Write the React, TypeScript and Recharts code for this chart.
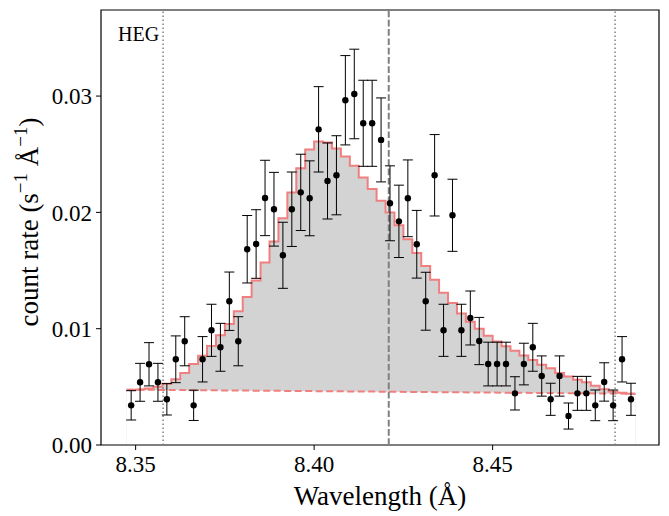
import {
  ComposedChart,
  Line,
  Area,
  Scatter,
  ErrorBar,
  XAxis,
  YAxis,
  ReferenceLine,
  ReferenceArea,
  Customized,
} from 'recharts'

// bin centres (Å), 2.5 mÅ bins
const wavelength = [
  8.34875, 8.35125, 8.35375, 8.35625, 8.35875, 8.36125, 8.36375, 8.36625, 8.36875, 8.37125,
  8.37375, 8.37625, 8.37875, 8.38125, 8.38375, 8.38625, 8.38875, 8.39125, 8.39375, 8.39625,
  8.39875, 8.40125, 8.40375, 8.40625, 8.40875, 8.41125, 8.41375, 8.41625, 8.41875, 8.42125,
  8.42375, 8.42625, 8.42875, 8.43125, 8.43375, 8.43625, 8.43875, 8.44125, 8.44375, 8.44625,
  8.44875, 8.45125, 8.45375, 8.45625, 8.45875, 8.46125, 8.46375, 8.46625, 8.46875, 8.47125,
  8.47375, 8.47625, 8.47875, 8.48125, 8.48375, 8.48625, 8.48875,
]

const rate = [
  0.00341, 0.00539, 0.00694, 0.00539, 0.00393, 0.00737, 0.00892, 0.00341, 0.00737, 0.00986,
  0.0084, 0.01236, 0.00892, 0.01683, 0.01728, 0.02124, 0.02027, 0.01631, 0.02027, 0.02172,
  0.02121, 0.02714, 0.0227, 0.02319, 0.02964, 0.03018, 0.02766, 0.02766, 0.02623, 0.02078,
  0.01923, 0.02121, 0.01726, 0.01236, 0.02319, 0.00986, 0.01975, 0.00986, 0.01092, 0.00894,
  0.00696, 0.00696, 0.00696, 0.00444, 0.00696, 0.0084, 0.00593, 0.00393, 0.00593, 0.00249,
  0.00444, 0.00444, 0.00341, 0.00542, 0.00341, 0.00737, 0.00393,
]

const rateErr = [
  0.00126, 0.00163, 0.00186, 0.00163, 0.00135, 0.00201, 0.00211, 0.0013, 0.00195, 0.00224,
  0.00206, 0.00251, 0.00211, 0.0029, 0.00295, 0.00324, 0.00317, 0.00284, 0.0032, 0.00328,
  0.00322, 0.00367, 0.00327, 0.0034, 0.00384, 0.00385, 0.0037, 0.0037, 0.00361, 0.00322,
  0.00311, 0.0033, 0.00291, 0.00249, 0.0035, 0.00224, 0.0031, 0.00224, 0.00232, 0.00203,
  0.00188, 0.00188, 0.00188, 0.00143, 0.00179, 0.00206, 0.00173, 0.00138, 0.00173, 0.00112,
  0.00146, 0.00146, 0.00132, 0.00165, 0.00132, 0.00195, 0.00138,
]

const model = [
  0.00476, 0.00478, 0.00485, 0.005, 0.00527, 0.00565, 0.00619, 0.00696, 0.00768, 0.00851,
  0.00943, 0.0104, 0.0115, 0.01273, 0.01415, 0.0157, 0.0175, 0.0195, 0.0217, 0.0238,
  0.0254, 0.0261, 0.026, 0.0255, 0.0248, 0.024, 0.023, 0.022, 0.021, 0.02,
  0.0189, 0.0177, 0.0165, 0.0154, 0.0142, 0.0131, 0.0122, 0.0113, 0.0106, 0.01,
  0.0094, 0.0089, 0.0085, 0.0081, 0.0077, 0.0073, 0.0069, 0.0066, 0.0062, 0.0059,
  0.0056, 0.0054, 0.0051, 0.0048, 0.0046, 0.0045, 0.0044,
]

// straight continuum, end points only
const contX = [8.3475, 8.49]
const contY = [0.00476, 0.00441]

const lineCentre = 8.4209
const lineLimits = [8.3577, 8.4843]

const xTicks = [8.35, 8.4, 8.45]
const yTicks = [0, 0.01, 0.02, 0.03]
const X_DOMAIN: [number, number] = [8.3403, 8.4966]
const Y_DOMAIN: [number, number] = [0, 0.0374]

const BIN = 0.0025
const FONT = 'Liberation Serif'
const RED = '#f08080'
const GREY = '#808080'

const points = wavelength.map((w, i) => ({ x: w, y: rate[i], err: rateErr[i] }))
const modelSteps = [
  ...wavelength.map((w, i) => ({ x: w - BIN / 2, model: model[i] })),
  { x: wavelength[wavelength.length - 1] + BIN / 2, model: model[model.length - 1] },
]
const continuum = contX.map((x, i) => ({ x, cont: contY[i] }))

const tickStyle = { fontSize: 23, fill: '#000', fontFamily: FONT, style: { fontFamily: FONT } }

function Dot(props: any) {
  const { cx, cy } = props
  if (cx == null || cy == null) return null
  return <circle cx={cx} cy={cy} r={3.2} fill="#000" />
}

function Texts() {
  return (
    <g style={{ fontFamily: FONT }} fill="#000">
      <text x={118} y={41} fontSize={20}>
        HEG
      </text>
      <text x={380} y={505} fontSize={27} textAnchor="middle">
        Wavelength (Å)
      </text>
      <text x={38} y={222} fontSize={27} textAnchor="middle" transform="rotate(-90 38 222)">
        count rate (s
        <tspan dy={-11} fontSize={19}>
          −1
        </tspan>
        <tspan dy={11}> Å</tspan>
        <tspan dy={-11} fontSize={19}>
          −1
        </tspan>
        <tspan dy={11}>)</tspan>
      </text>
    </g>
  )
}

export default function App() {
  return (
    <div style={{ position: 'fixed', left: 0, top: 0, width: 669, height: 516, background: '#fff' }}>
      <ComposedChart width={669} height={516} margin={{ top: 10, right: 10, left: 0, bottom: 0 }}>
        <XAxis
          type="number"
          dataKey="x"
          domain={X_DOMAIN}
          ticks={xTicks}
          tickFormatter={(v) => v.toFixed(2)}
          allowDataOverflow
          height={71}
          tick={tickStyle}
          tickSize={5}
          tickMargin={6}
          axisLine={false}
          tickLine={{ stroke: '#000' }}
        />
        <YAxis
          type="number"
          dataKey="y"
          domain={Y_DOMAIN}
          ticks={yTicks}
          tickFormatter={(v) => v.toFixed(2)}
          allowDataOverflow
          width={101}
          tick={tickStyle}
          tickSize={5}
          tickMargin={4}
          axisLine={false}
          tickLine={{ stroke: '#000' }}
        />
        <Area
          data={modelSteps}
          dataKey="model"
          type="stepAfter"
          fill="#d3d3d3"
          fillOpacity={1}
          stroke="none"
          isAnimationActive={false}
        />
        <Area
          data={continuum}
          dataKey="cont"
          type="linear"
          fill="#fff"
          fillOpacity={1}
          stroke="none"
          isAnimationActive={false}
        />
        <Line
          data={modelSteps}
          dataKey="model"
          type="stepAfter"
          stroke={RED}
          strokeWidth={2}
          dot={false}
          isAnimationActive={false}
        />
        <Line
          data={continuum}
          dataKey="cont"
          type="linear"
          stroke={RED}
          strokeWidth={2}
          strokeDasharray="7 3.5"
          dot={false}
          isAnimationActive={false}
        />
        {lineLimits.map((x) => (
          <ReferenceLine key={x} x={x} stroke={GREY} strokeWidth={1.5} strokeDasharray="1.5 2.5" />
        ))}
        <ReferenceLine x={lineCentre} stroke={GREY} strokeWidth={2} strokeDasharray="6.7 2.6" />
        <Scatter data={points} dataKey="y" fill="#000" isAnimationActive={false} shape={Dot}>
          <ErrorBar dataKey="err" direction="y" width={5} stroke="#000" strokeWidth={1} />
        </Scatter>
        <ReferenceArea
          x1={X_DOMAIN[0]}
          x2={X_DOMAIN[1]}
          y1={Y_DOMAIN[0]}
          y2={Y_DOMAIN[1]}
          fill="none"
          stroke="#000"
          strokeWidth={1.2}
        />
        <Customized component={Texts} />
      </ComposedChart>
    </div>
  )
}
